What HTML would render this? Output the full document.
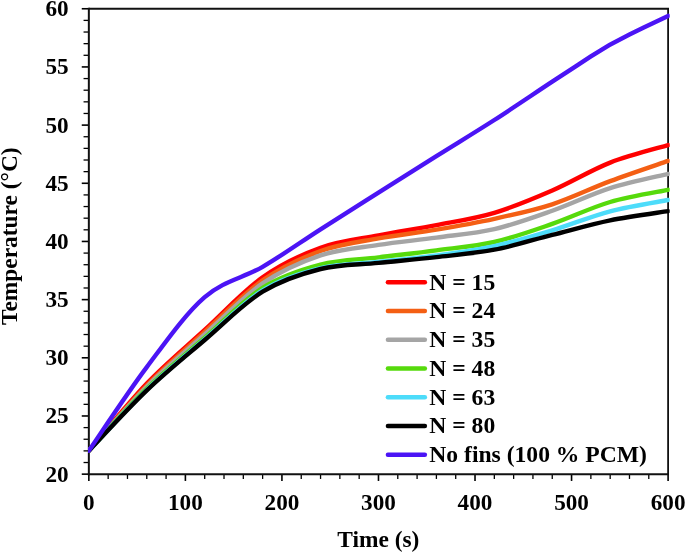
<!DOCTYPE html>
<html lang="en">
<head>
<meta charset="utf-8">
<title>Temperature vs Time</title>
<style>
html,body{margin:0;padding:0;background:#fff;}
body{width:685px;height:552px;overflow:hidden;}
svg{display:block;will-change:transform;}
</style>
</head>
<body>
<svg width="685" height="552" viewBox="0 0 685 552">
<rect width="685" height="552" fill="#fff"/>
<g stroke="#000" fill="none">
<line x1="81.75" y1="474.15" x2="88.85" y2="474.15" stroke-width="1.6"/>
<line x1="83.55" y1="462.52" x2="88.85" y2="462.52" stroke-width="1.3"/>
<line x1="83.55" y1="450.88" x2="88.85" y2="450.88" stroke-width="1.3"/>
<line x1="83.55" y1="439.25" x2="88.85" y2="439.25" stroke-width="1.3"/>
<line x1="83.55" y1="427.61" x2="88.85" y2="427.61" stroke-width="1.3"/>
<line x1="81.75" y1="415.98" x2="88.85" y2="415.98" stroke-width="1.6"/>
<line x1="83.55" y1="404.34" x2="88.85" y2="404.34" stroke-width="1.3"/>
<line x1="83.55" y1="392.71" x2="88.85" y2="392.71" stroke-width="1.3"/>
<line x1="83.55" y1="381.07" x2="88.85" y2="381.07" stroke-width="1.3"/>
<line x1="83.55" y1="369.44" x2="88.85" y2="369.44" stroke-width="1.3"/>
<line x1="81.75" y1="357.80" x2="88.85" y2="357.80" stroke-width="1.6"/>
<line x1="83.55" y1="346.17" x2="88.85" y2="346.17" stroke-width="1.3"/>
<line x1="83.55" y1="334.53" x2="88.85" y2="334.53" stroke-width="1.3"/>
<line x1="83.55" y1="322.90" x2="88.85" y2="322.90" stroke-width="1.3"/>
<line x1="83.55" y1="311.26" x2="88.85" y2="311.26" stroke-width="1.3"/>
<line x1="81.75" y1="299.63" x2="88.85" y2="299.63" stroke-width="1.6"/>
<line x1="83.55" y1="287.99" x2="88.85" y2="287.99" stroke-width="1.3"/>
<line x1="83.55" y1="276.36" x2="88.85" y2="276.36" stroke-width="1.3"/>
<line x1="83.55" y1="264.72" x2="88.85" y2="264.72" stroke-width="1.3"/>
<line x1="83.55" y1="253.09" x2="88.85" y2="253.09" stroke-width="1.3"/>
<line x1="81.75" y1="241.45" x2="88.85" y2="241.45" stroke-width="1.6"/>
<line x1="83.55" y1="229.82" x2="88.85" y2="229.82" stroke-width="1.3"/>
<line x1="83.55" y1="218.19" x2="88.85" y2="218.19" stroke-width="1.3"/>
<line x1="83.55" y1="206.55" x2="88.85" y2="206.55" stroke-width="1.3"/>
<line x1="83.55" y1="194.92" x2="88.85" y2="194.92" stroke-width="1.3"/>
<line x1="81.75" y1="183.28" x2="88.85" y2="183.28" stroke-width="1.6"/>
<line x1="83.55" y1="171.65" x2="88.85" y2="171.65" stroke-width="1.3"/>
<line x1="83.55" y1="160.01" x2="88.85" y2="160.01" stroke-width="1.3"/>
<line x1="83.55" y1="148.38" x2="88.85" y2="148.38" stroke-width="1.3"/>
<line x1="83.55" y1="136.74" x2="88.85" y2="136.74" stroke-width="1.3"/>
<line x1="81.75" y1="125.11" x2="88.85" y2="125.11" stroke-width="1.6"/>
<line x1="83.55" y1="113.47" x2="88.85" y2="113.47" stroke-width="1.3"/>
<line x1="83.55" y1="101.84" x2="88.85" y2="101.84" stroke-width="1.3"/>
<line x1="83.55" y1="90.20" x2="88.85" y2="90.20" stroke-width="1.3"/>
<line x1="83.55" y1="78.57" x2="88.85" y2="78.57" stroke-width="1.3"/>
<line x1="81.75" y1="66.93" x2="88.85" y2="66.93" stroke-width="1.6"/>
<line x1="83.55" y1="55.30" x2="88.85" y2="55.30" stroke-width="1.3"/>
<line x1="83.55" y1="43.66" x2="88.85" y2="43.66" stroke-width="1.3"/>
<line x1="83.55" y1="32.03" x2="88.85" y2="32.03" stroke-width="1.3"/>
<line x1="83.55" y1="20.39" x2="88.85" y2="20.39" stroke-width="1.3"/>
<line x1="81.75" y1="8.76" x2="88.85" y2="8.76" stroke-width="1.6"/>
<line x1="88.85" y1="474.15" x2="88.85" y2="480.95" stroke-width="1.6"/>
<line x1="108.16" y1="474.15" x2="108.16" y2="478.95" stroke-width="1.3"/>
<line x1="127.47" y1="474.15" x2="127.47" y2="478.95" stroke-width="1.3"/>
<line x1="146.78" y1="474.15" x2="146.78" y2="478.95" stroke-width="1.3"/>
<line x1="166.08" y1="474.15" x2="166.08" y2="478.95" stroke-width="1.3"/>
<line x1="185.39" y1="474.15" x2="185.39" y2="480.95" stroke-width="1.6"/>
<line x1="204.70" y1="474.15" x2="204.70" y2="478.95" stroke-width="1.3"/>
<line x1="224.01" y1="474.15" x2="224.01" y2="478.95" stroke-width="1.3"/>
<line x1="243.32" y1="474.15" x2="243.32" y2="478.95" stroke-width="1.3"/>
<line x1="262.62" y1="474.15" x2="262.62" y2="478.95" stroke-width="1.3"/>
<line x1="281.93" y1="474.15" x2="281.93" y2="480.95" stroke-width="1.6"/>
<line x1="301.24" y1="474.15" x2="301.24" y2="478.95" stroke-width="1.3"/>
<line x1="320.55" y1="474.15" x2="320.55" y2="478.95" stroke-width="1.3"/>
<line x1="339.86" y1="474.15" x2="339.86" y2="478.95" stroke-width="1.3"/>
<line x1="359.17" y1="474.15" x2="359.17" y2="478.95" stroke-width="1.3"/>
<line x1="378.48" y1="474.15" x2="378.48" y2="480.95" stroke-width="1.6"/>
<line x1="397.78" y1="474.15" x2="397.78" y2="478.95" stroke-width="1.3"/>
<line x1="417.09" y1="474.15" x2="417.09" y2="478.95" stroke-width="1.3"/>
<line x1="436.40" y1="474.15" x2="436.40" y2="478.95" stroke-width="1.3"/>
<line x1="455.71" y1="474.15" x2="455.71" y2="478.95" stroke-width="1.3"/>
<line x1="475.02" y1="474.15" x2="475.02" y2="480.95" stroke-width="1.6"/>
<line x1="494.33" y1="474.15" x2="494.33" y2="478.95" stroke-width="1.3"/>
<line x1="513.63" y1="474.15" x2="513.63" y2="478.95" stroke-width="1.3"/>
<line x1="532.94" y1="474.15" x2="532.94" y2="478.95" stroke-width="1.3"/>
<line x1="552.25" y1="474.15" x2="552.25" y2="478.95" stroke-width="1.3"/>
<line x1="571.56" y1="474.15" x2="571.56" y2="480.95" stroke-width="1.6"/>
<line x1="590.87" y1="474.15" x2="590.87" y2="478.95" stroke-width="1.3"/>
<line x1="610.18" y1="474.15" x2="610.18" y2="478.95" stroke-width="1.3"/>
<line x1="629.48" y1="474.15" x2="629.48" y2="478.95" stroke-width="1.3"/>
<line x1="648.79" y1="474.15" x2="648.79" y2="478.95" stroke-width="1.3"/>
<line x1="668.10" y1="474.15" x2="668.10" y2="480.95" stroke-width="1.6"/>
</g>
<g stroke="#111" fill="none">
<line x1="88.85" y1="7.86" x2="88.85" y2="475.15" stroke-width="2"/>
<line x1="87.85" y1="474.15" x2="669.00" y2="474.15" stroke-width="2"/>
<line x1="88.85" y1="8.76" x2="669.00" y2="8.76" stroke-width="1.8"/>
<line x1="668.10" y1="8.76" x2="668.10" y2="474.15" stroke-width="1.8"/>
</g>
<defs><clipPath id="plotclip"><rect x="88.0" y="0" width="581.7" height="552"/></clipPath></defs>
<g fill="none" stroke-width="4.4" stroke-linecap="round" stroke-linejoin="round" clip-path="url(#plotclip)">
<path stroke="#ff0000" d="M88.85,450.70 C98.50,439.50 127.47,403.63 146.78,383.50 C166.08,363.37 185.39,347.60 204.70,329.90 C224.01,312.20 243.32,290.98 262.62,277.30 C281.93,263.62 301.24,254.78 320.55,247.80 C339.86,240.82 359.17,239.18 378.48,235.40 C397.78,231.62 417.09,228.87 436.40,225.10 C455.71,221.33 475.02,218.57 494.33,212.80 C513.63,207.03 532.94,198.87 552.25,190.50 C571.56,182.13 590.87,170.17 610.18,162.60 C629.48,155.03 658.45,148.02 668.10,145.10"/>
<path stroke="#f45f14" d="M88.85,450.70 C98.50,439.83 127.47,405.30 146.78,385.50 C166.08,365.70 185.39,349.42 204.70,331.90 C224.01,314.38 243.32,293.88 262.62,280.40 C281.93,266.92 301.24,258.00 320.55,251.00 C339.86,244.00 359.17,241.97 378.48,238.40 C397.78,234.83 417.09,232.87 436.40,229.60 C455.71,226.33 475.02,223.02 494.33,218.80 C513.63,214.58 532.94,210.58 552.25,204.30 C571.56,198.02 590.87,188.33 610.18,181.10 C629.48,173.87 658.45,164.27 668.10,160.90"/>
<path stroke="#a5a5a5" d="M88.85,450.70 C98.50,440.03 127.47,406.07 146.78,386.70 C166.08,367.33 185.39,351.72 204.70,334.50 C224.01,317.28 243.32,296.58 262.62,283.40 C281.93,270.22 301.24,261.82 320.55,255.40 C339.86,248.98 359.17,247.87 378.48,244.90 C397.78,241.93 417.09,240.23 436.40,237.60 C455.71,234.97 475.02,233.58 494.33,229.10 C513.63,224.62 532.94,217.53 552.25,210.70 C571.56,203.87 590.87,194.23 610.18,188.10 C629.48,181.97 658.45,176.27 668.10,173.90"/>
<path stroke="#56da0c" d="M88.85,450.70 C98.50,440.37 127.47,407.53 146.78,388.70 C166.08,369.87 185.39,354.52 204.70,337.70 C224.01,320.88 243.32,299.98 262.62,287.80 C281.93,275.62 301.24,269.67 320.55,264.60 C339.86,259.53 359.17,259.77 378.48,257.40 C397.78,255.03 417.09,252.97 436.40,250.40 C455.71,247.83 475.02,246.42 494.33,242.00 C513.63,237.58 532.94,230.57 552.25,223.90 C571.56,217.23 590.87,207.68 610.18,202.00 C629.48,196.32 658.45,191.83 668.10,189.80"/>
<path stroke="#4ddcfa" d="M88.85,450.70 C98.50,440.57 127.47,408.48 146.78,389.90 C166.08,371.32 185.39,355.78 204.70,339.20 C224.01,322.62 243.32,302.23 262.62,290.40 C281.93,278.57 301.24,272.95 320.55,268.20 C339.86,263.45 359.17,264.02 378.48,261.90 C397.78,259.78 417.09,258.13 436.40,255.50 C455.71,252.87 475.02,250.30 494.33,246.10 C513.63,241.90 532.94,236.10 552.25,230.30 C571.56,224.50 590.87,216.35 610.18,211.30 C629.48,206.25 658.45,201.88 668.10,200.00"/>
<path stroke="#000000" d="M88.85,450.70 C98.50,440.65 127.47,408.85 146.78,390.40 C166.08,371.95 185.39,356.45 204.70,340.00 C224.01,323.55 243.32,303.53 262.62,291.70 C281.93,279.87 301.24,273.80 320.55,269.00 C339.86,264.20 359.17,264.88 378.48,262.90 C397.78,260.92 417.09,259.30 436.40,257.10 C455.71,254.90 475.02,253.40 494.33,249.70 C513.63,246.00 532.94,239.80 552.25,234.90 C571.56,230.00 590.87,224.27 610.18,220.30 C629.48,216.33 658.45,212.63 668.10,211.10"/>
<path stroke="#4b14f5" d="M88.85,450.70 C98.50,436.77 127.47,392.70 146.78,367.10 C166.08,341.50 185.39,313.82 204.70,297.10 C224.01,280.38 243.32,278.10 262.62,266.80 C281.93,255.50 301.24,241.67 320.55,229.30 C339.86,216.93 359.17,204.80 378.48,192.60 C397.78,180.40 417.09,168.20 436.40,156.10 C455.71,144.00 475.02,132.40 494.33,120.00 C513.63,107.60 532.94,94.43 552.25,81.70 C565.12,73.22 577.99,64.81 590.87,56.37 C603.74,47.93 616.61,40.61 629.48,34.43 C642.36,28.25 661.66,18.99 668.10,15.90"/>
</g>
<g font-family="'Liberation Serif', 'Times New Roman', serif" font-weight="bold" font-size="23px" fill="#000">
<text transform="translate(68.60,481.65) scale(1.01,1)" text-anchor="end">20</text>
<text transform="translate(68.60,423.48) scale(1.01,1)" text-anchor="end">25</text>
<text transform="translate(68.60,365.30) scale(1.01,1)" text-anchor="end">30</text>
<text transform="translate(68.60,307.13) scale(1.01,1)" text-anchor="end">35</text>
<text transform="translate(68.60,248.95) scale(1.01,1)" text-anchor="end">40</text>
<text transform="translate(68.60,190.78) scale(1.01,1)" text-anchor="end">45</text>
<text transform="translate(68.60,132.61) scale(1.01,1)" text-anchor="end">50</text>
<text transform="translate(68.60,74.43) scale(1.01,1)" text-anchor="end">55</text>
<text transform="translate(68.60,16.26) scale(1.01,1)" text-anchor="end">60</text>
<text transform="translate(88.85,509.60) scale(1.01,1)" text-anchor="middle">0</text>
<text transform="translate(185.39,509.60) scale(1.01,1)" text-anchor="middle">100</text>
<text transform="translate(281.93,509.60) scale(1.01,1)" text-anchor="middle">200</text>
<text transform="translate(378.48,509.60) scale(1.01,1)" text-anchor="middle">300</text>
<text transform="translate(475.02,509.60) scale(1.01,1)" text-anchor="middle">400</text>
<text transform="translate(571.56,509.60) scale(1.01,1)" text-anchor="middle">500</text>
<text transform="translate(668.10,509.60) scale(1.01,1)" text-anchor="middle">600</text>
<text transform="translate(378.30,547.30) scale(1.019,1)" text-anchor="middle">Time (s)</text>
<text transform="translate(16.90,236.20) rotate(-90) scale(1.017,1)" text-anchor="middle">Temperature (°C)</text>
<line x1="387.9" y1="282.30" x2="424.9" y2="282.30" stroke="#ff0000" stroke-width="4.4" stroke-linecap="round"/>
<text transform="translate(429.30,289.70) scale(1.027,1)">N = 15</text>
<line x1="387.9" y1="311.05" x2="424.9" y2="311.05" stroke="#f45f14" stroke-width="4.4" stroke-linecap="round"/>
<text transform="translate(429.30,318.45) scale(1.027,1)">N = 24</text>
<line x1="387.9" y1="339.80" x2="424.9" y2="339.80" stroke="#a5a5a5" stroke-width="4.4" stroke-linecap="round"/>
<text transform="translate(429.30,347.20) scale(1.027,1)">N = 35</text>
<line x1="387.9" y1="368.55" x2="424.9" y2="368.55" stroke="#56da0c" stroke-width="4.4" stroke-linecap="round"/>
<text transform="translate(429.30,375.95) scale(1.027,1)">N = 48</text>
<line x1="387.9" y1="397.30" x2="424.9" y2="397.30" stroke="#4ddcfa" stroke-width="4.4" stroke-linecap="round"/>
<text transform="translate(429.30,404.70) scale(1.027,1)">N = 63</text>
<line x1="387.9" y1="426.05" x2="424.9" y2="426.05" stroke="#000000" stroke-width="4.4" stroke-linecap="round"/>
<text transform="translate(429.30,433.45) scale(1.027,1)">N = 80</text>
<line x1="387.9" y1="454.80" x2="424.9" y2="454.80" stroke="#4b14f5" stroke-width="4.4" stroke-linecap="round"/>
<text transform="translate(429.30,462.20) scale(1.027,1)">No fins (100 % PCM)</text>
</g>
</svg>
</body>
</html>
